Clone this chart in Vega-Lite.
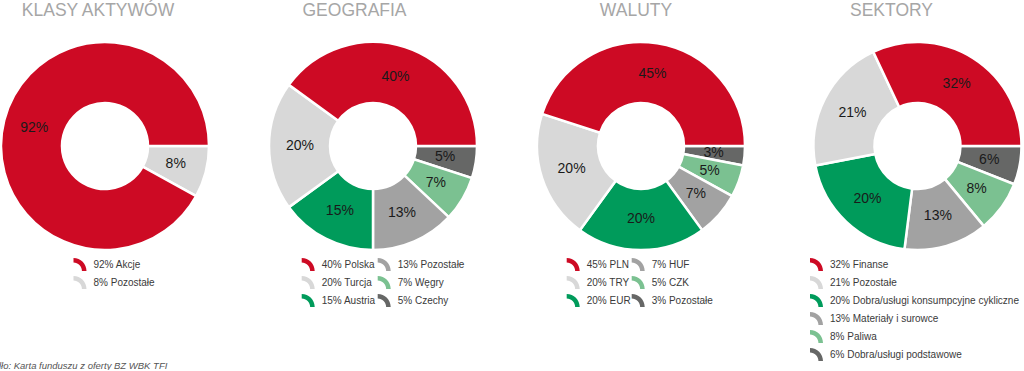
{
  "$schema": "https://vega.github.io/schema/vega-lite/v6.json",
  "padding": {"left": -19, "top": 1, "right": 0, "bottom": 0},
  "background": "white",
  "title": {"text": "Źródło: Karta funduszu z oferty BZ WBK TFI", "orient": "bottom", "anchor": "start", "dx": -14.5, "offset": -0.5, "fontSize": 9.5, "fontStyle": "italic", "fontWeight": "normal", "color": "#555555", "baseline": "top", "font": "Liberation Sans"},
  "bounds": "flush",
  "spacing": 62,
  "resolve": {"scale": {"color": "independent", "theta": "independent"}, "legend": {"color": "independent"}},
  "config": {
    "view": {"stroke": null},
    "font": "Liberation Sans",
    "title": {"fontSize": 17.5, "color": "#A6A6A6", "fontWeight": "normal", "font": "Liberation Sans", "baseline": "alphabetic", "offset": 18},
    "legend": {
      "symbolType": "M-1,-1A2,2 0 0 1 1,1L0.3,1A1.3,1.3 0 0 0 -1,-0.3Z",
      "symbolSize": 169,
      "symbolStrokeWidth": 0,
      "labelFont": "Liberation Sans",
      "labelFontSize": 10,
      "labelColor": "#3a3a3a",
      "labelLimit": 400,
      "labelOffset": 7,
      "rowPadding": 5,
      "columnPadding": 2,
      "padding": 0,
      "orient": "none"
    }
  },
  "hconcat": [
    {
      "width": 206, "height": 206,
      "title": {"text": "KLASY AKTYWÓW", "dx": -7},
      "data": {"values": [
        {"k": 1, "name": "8% Pozostałe", "v": 0.08},
        {"k": 2, "name": "92% Akcje", "v": 0.92}
      ]},
      "encoding": {
        "theta": {"field": "v", "type": "quantitative", "stack": true, "scale": {"domain": [0, 1], "range": [1.5708, 7.854]}},
        "order": {"field": "k", "type": "quantitative"},
        "color": {"field": "name", "type": "nominal",
          "scale": {"domain": ["92% Akcje", "8% Pozostałe"], "range": ["#CD0A24", "#D8D8D8"]},
          "legend": {"title": null, "legendX": 71.5, "legendY": 215, "columns": 1}}
      },
      "layer": [
        {"mark": {"type": "arc", "innerRadius": 43, "outerRadius": 104, "stroke": "white", "strokeWidth": 2.5}},
        {"mark": {"type": "text", "radius": 73, "fontSize": 14, "font": "Liberation Sans"},
         "encoding": {"text": {"field": "v", "type": "quantitative", "format": ".0%"}, "color": {"value": "#1a1a1a"}}}
      ]
    },
    {
      "width": 206, "height": 206,
      "title": {"text": "GEOGRAFIA", "dx": -18.5},
      "data": {"values": [
        {"k": 1, "name": "5% Czechy", "v": 0.05},
        {"k": 2, "name": "7% Węgry", "v": 0.07},
        {"k": 3, "name": "13% Pozostałe", "v": 0.13},
        {"k": 4, "name": "15% Austria", "v": 0.15},
        {"k": 5, "name": "20% Turcja", "v": 0.20},
        {"k": 6, "name": "40% Polska", "v": 0.40}
      ]},
      "encoding": {
        "theta": {"field": "v", "type": "quantitative", "stack": true, "scale": {"domain": [0, 1], "range": [1.5708, 7.854]}},
        "order": {"field": "k", "type": "quantitative"},
        "color": {"field": "name", "type": "nominal",
          "scale": {"domain": ["40% Polska", "20% Turcja", "15% Austria", "13% Pozostałe", "7% Węgry", "5% Czechy"], "range": ["#CD0A24", "#D8D8D8", "#009B5B", "#A2A2A2", "#7BC191", "#666766"]},
          "legend": {"title": null, "legendX": 31.7, "legendY": 215, "columns": 2}}
      },
      "layer": [
        {"mark": {"type": "arc", "innerRadius": 43, "outerRadius": 104, "stroke": "white", "strokeWidth": 2.5}},
        {"mark": {"type": "text", "radius": 73, "fontSize": 14, "font": "Liberation Sans"},
         "encoding": {"text": {"field": "v", "type": "quantitative", "format": ".0%"}, "color": {"value": "#1a1a1a"}}}
      ]
    },
    {
      "width": 206, "height": 206,
      "title": {"text": "WALUTY", "dx": -5},
      "data": {"values": [
        {"k": 1, "name": "3% Pozostałe", "v": 0.03},
        {"k": 2, "name": "5% CZK", "v": 0.05},
        {"k": 3, "name": "7% HUF", "v": 0.07},
        {"k": 4, "name": "20% EUR", "v": 0.20},
        {"k": 5, "name": "20% TRY", "v": 0.20},
        {"k": 6, "name": "45% PLN", "v": 0.45}
      ]},
      "encoding": {
        "theta": {"field": "v", "type": "quantitative", "stack": true, "scale": {"domain": [0, 1], "range": [1.5708, 7.854]}},
        "order": {"field": "k", "type": "quantitative"},
        "color": {"field": "name", "type": "nominal",
          "scale": {"domain": ["45% PLN", "20% TRY", "20% EUR", "7% HUF", "5% CZK", "3% Pozostałe"], "range": ["#CD0A24", "#D8D8D8", "#009B5B", "#A2A2A2", "#7BC191", "#666766"]},
          "legend": {"title": null, "legendX": 28.7, "legendY": 215, "columns": 2, "columnPadding": 1}}
      },
      "layer": [
        {"mark": {"type": "arc", "innerRadius": 43, "outerRadius": 104, "stroke": "white", "strokeWidth": 2.5}},
        {"mark": {"type": "text", "radius": 73, "fontSize": 14, "font": "Liberation Sans"},
         "encoding": {"text": {"field": "v", "type": "quantitative", "format": ".0%"}, "color": {"value": "#1a1a1a"}}}
      ]
    },
    {
      "width": 223, "height": 206,
      "title": {"text": "SEKTORY", "dx": -26},
      "data": {"values": [
        {"k": 1, "name": "6% Dobra/usługi podstawowe", "v": 0.06},
        {"k": 2, "name": "8% Paliwa", "v": 0.08},
        {"k": 3, "name": "13% Materiały i surowce", "v": 0.13},
        {"k": 4, "name": "20% Dobra/usługi konsumpcyjne cykliczne", "v": 0.20},
        {"k": 5, "name": "21% Pozostałe", "v": 0.21},
        {"k": 6, "name": "32% Finanse", "v": 0.32}
      ]},
      "encoding": {
        "theta": {"field": "v", "type": "quantitative", "stack": true, "scale": {"domain": [0, 1], "range": [1.5708, 7.854]}},
        "order": {"field": "k", "type": "quantitative"},
        "color": {"field": "name", "type": "nominal",
          "scale": {"domain": ["32% Finanse", "21% Pozostałe", "20% Dobra/usługi konsumpcyjne cykliczne", "13% Materiały i surowce", "8% Paliwa", "6% Dobra/usługi podstawowe"], "range": ["#CD0A24", "#D8D8D8", "#009B5B", "#A2A2A2", "#7BC191", "#666766"]},
          "legend": {"title": null, "legendX": 4, "legendY": 215, "columns": 1}}
      },
      "layer": [
        {"mark": {"type": "arc", "innerRadius": 43, "outerRadius": 104, "stroke": "white", "strokeWidth": 2.5}},
        {"mark": {"type": "text", "radius": 73, "fontSize": 14, "font": "Liberation Sans"},
         "encoding": {"text": {"field": "v", "type": "quantitative", "format": ".0%"}, "color": {"value": "#1a1a1a"}}}
      ]
    }
  ]
}
